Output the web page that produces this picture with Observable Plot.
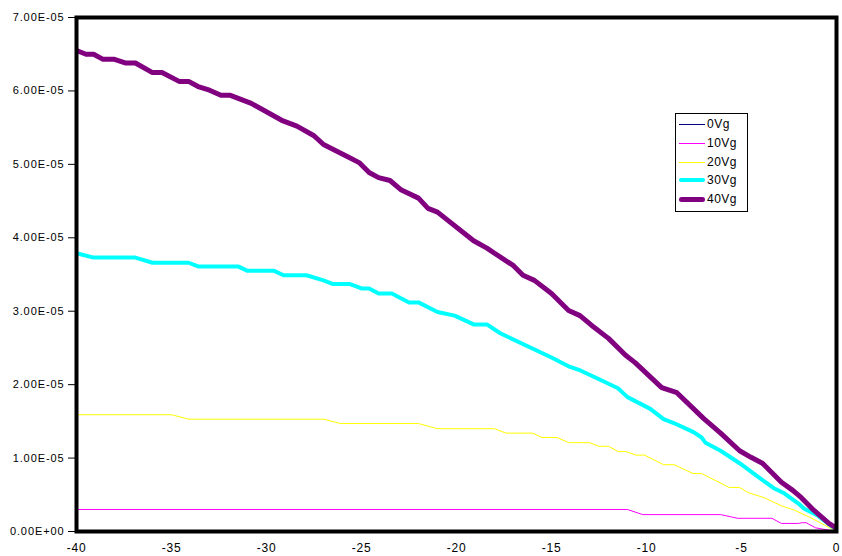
<!DOCTYPE html>
<html>
<head>
<meta charset="utf-8">
<script src="https://cdn.jsdelivr.net/npm/d3@7"></script>
<script src="https://cdn.jsdelivr.net/npm/@observablehq/plot@0.6"></script>
<style>
  html, body { margin: 0; padding: 0; background: #fff; }
  #wrap { position: relative; width: 842px; height: 556px; font-family: "Liberation Sans", Arial, sans-serif; }
  #legend { position: absolute; left: 675px; top: 113px; width: 71px; height: 97px; border: 1px solid #000; background: #fff; box-sizing: content-box; }
  .row { position: absolute; left: 0; height: 14px; font-size: 12px; line-height: 14px; color: #000; letter-spacing: 0.5px; }
  .sw { position: absolute; left: 3px; width: 26px; }
  .lb { position: absolute; left: 31px; white-space: nowrap; }
</style>
</head>
<body>
<div id="wrap"></div>
<script>
// ---- Data ----
const seriesNames = ["0Vg", "10Vg", "20Vg", "30Vg", "40Vg"];
const seriesColors = ["#000080", "#FF00FF", "#FFFF00", "#00FFFF", "#800080"];

const xTicks = [-40, -35, -30, -25, -20, -15, -10, -5, 0];
const yTicks = [0, 1e-5, 2e-5, 3e-5, 4e-5, 5e-5, 6e-5, 7e-5];
const yTickLabels = ["0.00E+00", "1.00E-05", "2.00E-05", "3.00E-05", "4.00E-05", "5.00E-05", "6.00E-05", "7.00E-05"];

const x0Vg = [-40, 0];
const y0Vg = [0, 0];

const x10Vg = [-40, -11.0, -10.2, -6.1, -5.2, -3.4, -2.9, -2.0, -1.8, -1.6, -1.1, 0];
const y10Vg = [3.0e-6, 3.0e-6, 2.3e-6, 2.3e-6, 1.8e-6, 1.8e-6, 1.1e-6, 1.1e-6, 1.2e-6, 1.2e-6, 0.5e-6, 0];

const x20Vg = [-40, -35.0, -34.1, -27.0, -26.1, -22.0, -21.0, -18.0, -17.4, -16.0, -15.5, -14.7, -14.1, -13.0, -12.5, -12.0, -11.5, -11.1, -10.55, -10.1, -9.1, -8.55, -7.55, -7.1, -5.65, -5.1, -4.65, -3.8, -2.9, -2.2, -1.3, 0];
const y20Vg = [1.59e-5, 1.59e-5, 1.53e-5, 1.53e-5, 1.47e-5, 1.47e-5, 1.40e-5, 1.40e-5, 1.34e-5, 1.34e-5, 1.28e-5, 1.28e-5, 1.21e-5, 1.21e-5, 1.16e-5, 1.16e-5, 1.09e-5, 1.09e-5, 1.04e-5, 1.04e-5, 0.91e-5, 0.91e-5, 0.79e-5, 0.79e-5, 0.60e-5, 0.60e-5, 0.53e-5, 0.46e-5, 0.35e-5, 0.29e-5, 0.18e-5, 0];

const x30Vg = [-40, -39.1, -36.9, -36.0, -34.1, -33.6, -31.5, -31.0, -29.6, -29.1, -27.9, -27.0, -26.5, -25.6, -25.0, -24.6, -24.1, -23.4, -22.5, -22.0, -21.0, -20.1, -19.1, -18.4, -17.7, -15.0, -14.1, -13.45, -12.55, -11.5, -11.0, -9.8, -9.1, -8.5, -7.5, -7.1, -6.9, -6.1, -5.1, -4.0, -3.3, -2.75, -2.0, -1.7, -1.0, -0.3, 0];
const y30Vg = [3.79e-5, 3.73e-5, 3.73e-5, 3.66e-5, 3.66e-5, 3.61e-5, 3.61e-5, 3.55e-5, 3.55e-5, 3.49e-5, 3.49e-5, 3.42e-5, 3.37e-5, 3.37e-5, 3.31e-5, 3.31e-5, 3.24e-5, 3.24e-5, 3.12e-5, 3.12e-5, 2.99e-5, 2.94e-5, 2.82e-5, 2.82e-5, 2.70e-5, 2.37e-5, 2.25e-5, 2.19e-5, 2.08e-5, 1.95e-5, 1.83e-5, 1.67e-5, 1.53e-5, 1.47e-5, 1.35e-5, 1.28e-5, 1.21e-5, 1.10e-5, 0.93e-5, 0.72e-5, 0.59e-5, 0.52e-5, 0.38e-5, 0.31e-5, 0.22e-5, 0.08e-5, 0.03e-5];

const x40Vg = [-40, -39.5, -39.1, -38.6, -38.0, -37.4, -36.9, -36.0, -35.5, -34.6, -34.1, -33.6, -33.0, -32.4, -31.9, -30.8, -29.2, -28.4, -27.5, -27.0, -25.7, -25.1, -24.6, -24.1, -23.5, -22.9, -22.0, -21.5, -21.0, -19.1, -18.4, -18.0, -17.0, -16.5, -15.9, -15.0, -14.1, -13.5, -12.9, -12.0, -11.1, -10.6, -9.2, -8.4, -7.0, -6.1, -5.1, -4.5, -3.9, -2.9, -2.3, -1.85, -1.2, -0.4, -0.15, 0];
const y40Vg = [6.55e-5, 6.50e-5, 6.50e-5, 6.43e-5, 6.43e-5, 6.38e-5, 6.38e-5, 6.25e-5, 6.25e-5, 6.13e-5, 6.13e-5, 6.06e-5, 6.01e-5, 5.94e-5, 5.94e-5, 5.83e-5, 5.60e-5, 5.52e-5, 5.39e-5, 5.27e-5, 5.10e-5, 5.02e-5, 4.89e-5, 4.82e-5, 4.78e-5, 4.65e-5, 4.54e-5, 4.40e-5, 4.35e-5, 3.96e-5, 3.86e-5, 3.79e-5, 3.62e-5, 3.49e-5, 3.42e-5, 3.24e-5, 3.01e-5, 2.94e-5, 2.81e-5, 2.63e-5, 2.40e-5, 2.30e-5, 1.96e-5, 1.89e-5, 1.54e-5, 1.34e-5, 1.10e-5, 1.01e-5, 0.93e-5, 0.67e-5, 0.56e-5, 0.46e-5, 0.29e-5, 0.11e-5, 0.07e-5, 0.04e-5];

const seriesX = [x0Vg, x10Vg, x20Vg, x30Vg, x40Vg];
const seriesY = [y0Vg, y10Vg, y20Vg, y30Vg, y40Vg];
const seriesWidths = [1, 1, 1, 4, 5];

// ---- Chart ----
const lineMarks = seriesNames.map((name, k) => {
  const rows = seriesX[k].map((x, i) => ({x, y: seriesY[k][i], s: name}));
  return Plot.line(rows, {x: "x", y: "y", stroke: seriesColors[k], strokeWidth: seriesWidths[k], strokeLinejoin: "round", strokeLinecap: "butt"});
});

const chart = Plot.plot({
  width: 842,
  height: 556,
  marginLeft: 76,
  marginRight: 6,
  marginTop: 17,
  marginBottom: 25,
  style: {fontFamily: "'Liberation Sans', Arial, sans-serif", color: "#000", background: "#fff", overflow: "visible"},
  x: {domain: [-40, 0]},
  y: {domain: [0, 7e-5]},
  marks: [
    ...lineMarks,
    Plot.frame({stroke: "#000", strokeWidth: 4}),
    Plot.axisY({ticks: yTicks, tickFormat: d => yTickLabels[yTicks.findIndex(t => Math.abs(t - d) < 1e-9)], tickSize: 8, tickPadding: 4, label: null, stroke: "#000"}),
    Plot.axisX({ticks: xTicks, tickFormat: d => String(d), tickSize: 0, tickPadding: 12, label: null})
  ]
});

// Text sizing like the reference (inline styles so nothing overrides them)
d3.select(chart).selectAll("text").each(function() {
  const t = this.textContent;
  if (yTickLabels.includes(t)) {
    this.style.fontSize = "11px";
    this.style.letterSpacing = "0.9px";
  } else {
    this.style.fontSize = "12px";
    this.style.letterSpacing = "0.8px";
  }
});

const wrap = document.getElementById("wrap");
wrap.appendChild(chart);

// ---- Legend ----
const legend = document.createElement("div");
legend.id = "legend";
const rowTops = [3, 22, 41, 59, 78];
seriesNames.forEach((name, k) => {
  const row = document.createElement("div");
  row.className = "row";
  row.style.top = rowTops[k] + "px";
  const sw = document.createElement("div");
  sw.className = "sw";
  const w = seriesWidths[k];
  sw.style.height = w + "px";
  sw.style.top = (7 - w / 2) + "px";
  sw.style.background = seriesColors[k];
  if (w > 2) sw.style.borderRadius = (w / 2) + "px";
  const lb = document.createElement("span");
  lb.className = "lb";
  lb.textContent = name;
  row.appendChild(sw);
  row.appendChild(lb);
  legend.appendChild(row);
});
wrap.appendChild(legend);
</script>
</body>
</html>
